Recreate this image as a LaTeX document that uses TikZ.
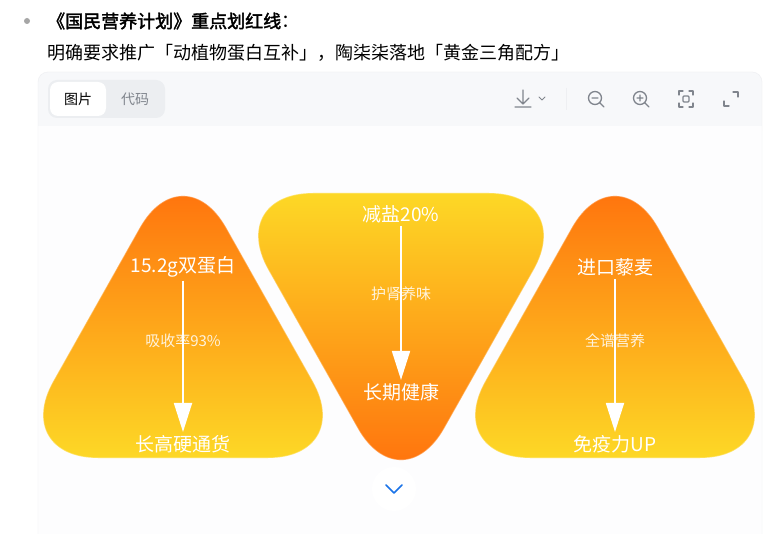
\documentclass[tikz,border=0pt]{standalone}
\usepackage{fontspec}
\newfontfamily\cjk{Noto Sans CJK SC}
\newfontfamily\cjkbold{Noto Sans CJK SC}[FakeBold=2.2]
\usetikzlibrary{
  arrows.meta,   % 三角箭头
  positioning    % 节点相对定位
}
\definecolor{triorange}{HTML}{FF650A}
\definecolor{triyellow}{HTML}{FDD826}
\definecolor{panelhead}{HTML}{F7F8FA}
\definecolor{panelbody}{HTML}{FDFDFE}
\definecolor{panelline}{HTML}{EEEFF2}
\definecolor{icongray}{HTML}{80858D}
\definecolor{tabgray}{HTML}{ECEEF1}
\definecolor{chevblue}{HTML}{1A73E8}
\tikzset{
  tri up/.style={
    top color=triorange,
    bottom color=triyellow,
    draw=white, draw opacity=0.3,
    line width=1.2pt,
    rounded corners=88pt
  },
  tri down/.style={
    top color=triyellow,
    bottom color=triorange,
    draw=white, draw opacity=0.3,
    line width=1.2pt,
    rounded corners=88pt
  },
  main label/.style={
    text=white,
    font=\cjk\fontsize{19}{19}\selectfont,
    inner sep=3pt
  },
  sub label/.style={
    text=white, text opacity=0.85,
    font=\cjk\fontsize{15}{15}\selectfont,
    inner sep=1pt
  },
  flow arrow/.style={
    draw=white,
    line width=1.8pt,
    -{Triangle[length=29pt,width=18pt]}
  },
  icon line/.style={
    draw=icongray,
    line width=1.3pt,
    line cap=round,
    line join=round
  },
  head text/.style={
    anchor=west,
    inner sep=0pt,
    font=\cjk\fontsize{18}{18}\selectfont
  }
}

\begin{document}
\begin{tikzpicture}[x=1pt, y=-1pt]
  \useasboundingbox (0,0) rectangle (776,534);
  \fill[white] (0,0) rectangle (776,534);

  % 1. 标题两行
  \fill[gray!70] (27,21) circle (3);
  \node[head text] (title) at (47,21) {{\cjkbold 《国民营养计划》重点划红线}：};
  \node[head text] (subtitle) at (47,53) {明确要求推广「动植物蛋白互补」，陶柒柒落地「黄金三角配方」};

  % 2. 面板与工具栏
  \fill[panelbody, rounded corners=10] (38,72) rectangle (762,560);
  \fill[panelhead, rounded corners=10] (38,72) rectangle (762,140);
  \fill[panelbody] (38,126) rectangle (762,140);
  \draw[panelline, rounded corners=10] (38,72) rectangle (762,560);
  \fill[tabgray, rounded corners=9] (48,80) rectangle (165,118);
  \fill[white, rounded corners=8] (50,82) rectangle (106,116);
  \node[font=\cjk\fontsize{14}{14}\selectfont] (tabPic) at (78,99) {图片};
  \node[font=\cjk\fontsize{14}{14}\selectfont, text=icongray] (tabCode) at (135,99) {代码};

  % 下载
  \draw[icon line] (523,90) -- (523,104) (517,98) -- (523,104) -- (529,98) (515,107) -- (531,107);
  \draw[icon line, line width=1pt] (539,97) -- (542,100) -- (545,97);
  \draw[panelline, line width=1pt] (566,88) -- (566,110);
  % 缩小 / 放大
  \draw[icon line] (595,98) circle (6.5) (600,103) -- (604,107) (592,98) -- (598,98);
  \draw[icon line] (640,98) circle (6.5) (645,103) -- (649,107) (637,98) -- (643,98) (640,95) -- (640,101);
  % 适应
  \draw[icon line] (679,95) -- (679,91) -- (683,91) (689,91) -- (693,91) -- (693,95)
                   (693,103) -- (693,107) -- (689,107) (683,107) -- (679,107) -- (679,103);
  \draw[icon line, rounded corners=1] (683,96) rectangle (689,102);
  % 全屏
  \draw[icon line] (733,92) -- (738,92) -- (738,97) (724,101) -- (724,106) -- (729,106);

  % 3. 三个圆角三角形
  \draw[tri up]   (10,458) -- (183,151) -- (356,458) -- cycle;
  \draw[tri down] (225,193) -- (577,193) -- (401,505) -- cycle;
  \draw[tri up]   (442,458) -- (615,151) -- (788,458) -- cycle;

  % 4. 左：双蛋白
  \node[main label] (proteinTop) at (183,267) {15.2g双蛋白};
  \node[main label] (proteinBot) at (183,444) {长高硬通货};
  \draw[flow arrow] (proteinTop) -- (proteinBot);
  \node[sub label] (proteinMid) at (183,341) {吸收率93\%};

  % 5. 中：减盐
  \node[main label] (saltTop) at (401,214) {减盐20\%};
  \node[main label] (saltBot) at (401,392) {长期健康};
  \draw[flow arrow] (saltTop) -- (saltBot);
  \node[sub label] (saltMid) at (401,294) {护肾养味};

  % 6. 右：藜麦
  \node[main label] (quinoaTop) at (615,267) {进口藜麦};
  \node[main label] (quinoaBot) at (615,444) {免疫力UP};
  \draw[flow arrow] (quinoaTop) -- (quinoaBot);
  \node[sub label] (quinoaMid) at (615,341) {全谱营养};

  % 7. 底部展开按钮
  \fill[white] (394,489) circle (22);
  \draw[chevblue, line width=1.6pt, line cap=round, line join=round] (386,485) -- (394,493) -- (402,485);
\end{tikzpicture}
\end{document}
